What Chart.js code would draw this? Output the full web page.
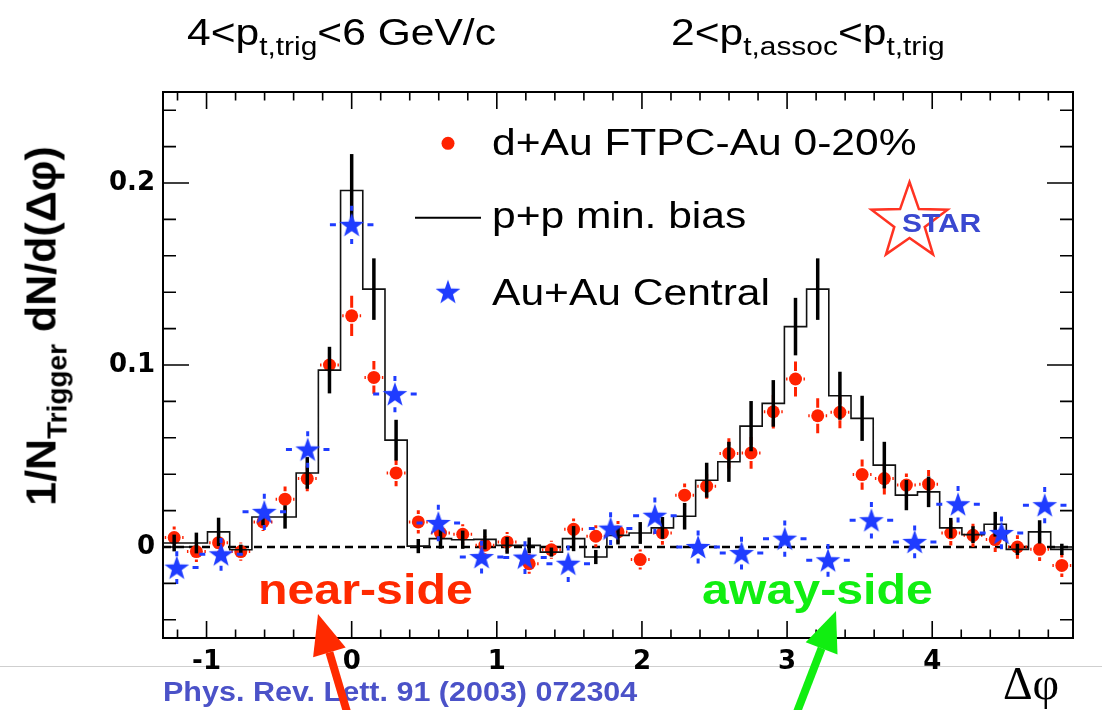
<!DOCTYPE html>
<html><head><meta charset="utf-8">
<script src="https://cdn.jsdelivr.net/npm/chart.js@4/dist/chart.umd.min.js"></script>
<style>
html,body{margin:0;padding:0;background:#fff;}
#wrap{position:relative;width:1102px;height:710px;overflow:hidden;font-family:"Liberation Sans",Arial,Helvetica,sans-serif;}
#c{position:absolute;left:0;top:0;}
.t{position:absolute;white-space:nowrap;line-height:1;transform-origin:0 0;transform:scaleX(1.15);color:#000;}
.sub{position:relative;}
#arrows{position:absolute;left:0;top:0;pointer-events:none;}
</style></head><body>
<div id="wrap">
<div style="position:absolute;left:0;top:666px;width:1102px;height:1px;background:#cfcfcf;"></div>
<canvas id="c" width="1102" height="710"></canvas>
<div class="t" style="left:187px;top:13.7px;font-size:37px;">4&lt;p<span class="sub" style="font-size:26px;top:10px;">t,trig</span>&lt;6 GeV/c</div>
<div class="t" style="left:671px;top:13.7px;font-size:37px;">2&lt;p<span class="sub" style="font-size:26px;top:10px;">t,assoc</span>&lt;p<span class="sub" style="font-size:26px;top:10px;">t,trig</span></div>
<div class="t" style="left:41px;top:326px;font-size:43px;font-weight:bold;font-family:'Liberation Sans',Arial,sans-serif;transform-origin:50% 50%;transform:translate(-50%,-50%) rotate(-90deg);">1/N<span class="sub" style="font-size:28px;top:11px;">Trigger</span> dN/d(Δφ)</div>
<div class="t" style="left:492px;top:123.7px;font-size:37px;">d+Au FTPC-Au 0-20%</div>
<div class="t" style="left:492px;top:196.7px;font-size:37px;">p+p min. bias</div>
<div class="t" style="left:492px;top:273.7px;font-size:37px;">Au+Au Central</div>
<div class="t" style="left:902px;top:210px;font-size:26px;font-weight:bold;color:#3a48d0;">STAR</div>
<div class="t" style="left:258px;top:569.4px;font-size:42px;font-weight:bold;color:#ff2a00;">near-side</div>
<div class="t" style="left:702px;top:569.4px;font-size:42px;font-weight:bold;color:#11ee11;">away-side</div>
<div class="t" style="left:163px;top:679px;font-size:27px;font-weight:bold;color:#4b52c8;transform:scaleX(1.13);">Phys. Rev. Lett. 91 (2003) 072304</div>
<div class="t" style="left:1003px;top:661px;font-size:46px;font-family:'Liberation Serif','DejaVu Serif',serif;transform:none;">Δφ</div>
<svg id="arrows" width="1102" height="710">
  <line x1="347" y1="712" x2="329.4" y2="652.4" stroke="#ff2a00" stroke-width="8"/>
  <polygon points="318,614 345.7,647.6 313.1,657.2" fill="#ff2a00"/>
  <line x1="797" y1="712" x2="821.6" y2="648.3" stroke="#11ee11" stroke-width="8"/>
  <polygon points="836,611 837.5,654.4 805.7,642.2" fill="#11ee11"/>
</svg>
</div>
<script>
// ---- data ----
// Δφ bin centres of the d+Au / p+p histograms
const dAuX = [-1.223,-1.070,-0.917,-0.764,-0.611,-0.459,-0.306,-0.153,0.000,0.153,0.306,0.459,0.612,0.765,0.918,1.071,1.223,1.376,1.529,1.682,1.835,1.988,2.141,2.294,2.446,2.599,2.752,2.905,3.058,3.211,3.364,3.517,3.670,3.822,3.975,4.128,4.281,4.434,4.587,4.740,4.893];
// d+Au FTPC-Au 0-20%
const dAuY = [0.0052,-0.0025,0.0024,-0.0025,0.0138,0.0263,0.0376,0.1000,0.1270,0.0932,0.0407,0.0138,0.0077,0.0070,0.0010,0.0028,-0.0092,-0.0015,0.0097,0.0059,0.0083,-0.0069,0.0077,0.0285,0.0334,0.0514,0.0517,0.0743,0.0923,0.0721,0.0740,0.0398,0.0376,0.0340,0.0345,0.0077,0.0064,0.0041,0.0000,-0.0013,-0.0101];
const dAuErr = [0.006,0.004,0.004,0.005,0.005,0.007,0.007,0.0065,0.011,0.009,0.0073,0.0064,0.0055,0.0055,0.005,0.0055,0.0055,0.005,0.006,0.006,0.006,0.0055,0.0064,0.0064,0.0069,0.0083,0.0087,0.0092,0.0096,0.0096,0.0087,0.0083,0.0087,0.0064,0.0078,0.0069,0.0064,0.0069,0.0064,0.0064,0.0064];
const dAuXErr = 0.065;
// p+p min. bias (histogram, same bins)
const ppY = [0.0022,0.0022,0.0083,-0.0015,0.0165,0.0165,0.0407,0.0972,0.1959,0.1417,0.0587,0.0005,0.0046,0.0040,0.0042,0.0009,0.0009,-0.0028,0.0046,-0.0055,0.0064,0.0077,0.0105,0.0169,0.0367,0.0468,0.0664,0.0789,0.1211,0.1417,0.0831,0.0707,0.0450,0.0285,0.0303,0.0105,0.0068,0.0125,-0.0013,0.0083,-0.0013];
const ppErr = [0.0046,0.0057,0.0078,0.0028,0.0046,0.0064,0.0087,0.0128,0.0200,0.0169,0.0112,0.0039,0.0055,0.0050,0.0055,0.0046,0.0043,0.0025,0.0069,0.0039,0.0050,0.0060,0.0060,0.0073,0.0096,0.0110,0.0138,0.0128,0.0158,0.0169,0.0132,0.0124,0.0128,0.0083,0.0084,0.0055,0.0046,0.0068,0.0031,0.0064,0.0031];
// Au+Au Central
const auauX = [-1.205,-0.900,-0.602,-0.303,0.000,0.298,0.597,0.895,1.194,1.492,1.784,2.089,2.387,2.686,2.984,3.282,3.581,3.879,4.178,4.477,4.775];
const auauY = [-0.0113,-0.0040,0.0193,0.0536,0.1770,0.0840,0.0132,-0.0055,-0.0058,-0.0092,0.0101,0.0172,0.0000,-0.0033,0.0046,-0.0073,0.0147,0.0028,0.0235,0.0077,0.0230];
const auauErr = [0.009,0.009,0.010,0.010,0.0105,0.010,0.010,0.009,0.009,0.010,0.009,0.010,0.009,0.009,0.010,0.009,0.010,0.009,0.010,0.009,0.010];
const auauXErr = 0.15;
// axis ticks
const xTickValues = [-1,0,1,2,3,4];
const yTickValues = [0,0.1,0.2];
const xRange = [-1.3, 4.97];
const yRange = [-0.05, 0.25];

// ---- colours ----
const RED = '#ff2200', BLUE = '#1f3cff', BLACK = '#000';

function makeStar(R, col){
  const s = Math.ceil(R*2+4);
  const c = document.createElement('canvas'); c.width = s; c.height = s;
  const g = c.getContext('2d');
  g.translate(s/2, s/2+1);
  g.beginPath();
  for(let k=0;k<10;k++){
    const a = -Math.PI/2 + k*Math.PI/5, r = (k%2===0)?R:R*0.4;
    const px = r*Math.cos(a), py = r*Math.sin(a);
    k===0?g.moveTo(px,py):g.lineTo(px,py);
  }
  g.closePath(); g.fillStyle = col; g.fill();
  return c;
}
const starImg = makeStar(13, BLUE);

// histogram edges built from the bin centres
const ppEdges = dAuX.map((x,i)=> i===0 ? x-(dAuX[1]-dAuX[0])/2 : (dAuX[i-1]+x)/2);
const lastEdge = dAuX[dAuX.length-1] + (dAuX[dAuX.length-1]-dAuX[dAuX.length-2])/2;
const ppHist = ppY.map((y,i)=>({x:ppEdges[i], y}));
ppHist.push({x:lastEdge, y:ppY[ppY.length-1]});

const clipArea = (ctx, a) => { ctx.beginPath(); ctx.rect(a.left, a.top, a.right-a.left, a.bottom-a.top); ctx.clip(); };

const decor = {
  id:'decor',
  beforeDatasetsDraw(chart){
    const {ctx, chartArea:a, scales:{x,y}} = chart;
    ctx.save();
    ctx.strokeStyle = '#000'; ctx.lineWidth = 2.4; ctx.setLineDash([8,5]);
    const y0 = y.getPixelForValue(0);
    ctx.beginPath(); ctx.moveTo(a.left, y0); ctx.lineTo(a.right, y0); ctx.stroke();
    ctx.restore();
  },
  beforeDatasetDraw(chart, args){
    const {ctx, chartArea:a, scales:{x,y}} = chart;
    const ds = chart.data.datasets[args.index];
    ctx.save(); clipArea(ctx,a);
    if(ds.label === 'd+Au FTPC-Au 0-20%'){
      ctx.strokeStyle = RED; ctx.lineWidth = 3;
      const r = 6.5;
      dAuX.forEach((xv,i)=>{
        const px = x.getPixelForValue(xv), py = y.getPixelForValue(dAuY[i]);
        const ey = Math.abs(y.getPixelForValue(dAuY[i]+dAuErr[i]) - py);
        const ex = Math.abs(x.getPixelForValue(xv+dAuXErr) - px);
        ctx.beginPath();
        if(ey > r+2){ ctx.moveTo(px, py-r-1.5); ctx.lineTo(px, py-ey); ctx.moveTo(px, py+r+1.5); ctx.lineTo(px, py+ey); }
        else { ctx.moveTo(px, py-r-1.5); ctx.lineTo(px, py-r-4); ctx.moveTo(px, py+r+1.5); ctx.lineTo(px, py+r+4); }
        ctx.moveTo(px-r-1.5, py); ctx.lineTo(px-ex, py); ctx.moveTo(px+r+1.5, py); ctx.lineTo(px+ex, py);
        ctx.stroke();
      });
    }
    if(ds.label === 'Au+Au Central'){
      ctx.strokeStyle = BLUE; ctx.lineWidth = 3;
      auauX.forEach((xv,i)=>{
        const px = x.getPixelForValue(xv), py = y.getPixelForValue(auauY[i]);
        const ey = Math.abs(y.getPixelForValue(auauY[i]+auauErr[i]) - py);
        const ex = Math.abs(x.getPixelForValue(xv+auauXErr) - px);
        ctx.beginPath();
        ctx.moveTo(px-ex, py); ctx.lineTo(px-ex+6, py);
        ctx.moveTo(px+ex-6, py); ctx.lineTo(px+ex, py);
        ctx.moveTo(px, py-ey); ctx.lineTo(px, py-ey+5);
        ctx.moveTo(px, py+ey-5); ctx.lineTo(px, py+ey);
        ctx.stroke();
      });
    }
    ctx.restore();
  },
  afterDatasetDraw(chart, args){
    const {ctx, chartArea:a, scales:{x,y}} = chart;
    const ds = chart.data.datasets[args.index];
    if(ds.label !== 'p+p min. bias') return;
    ctx.save(); clipArea(ctx,a);
    ctx.strokeStyle = BLACK; ctx.lineWidth = 3.5;
    dAuX.forEach((xv,i)=>{
      const px = x.getPixelForValue(xv);
      ctx.beginPath();
      ctx.moveTo(px, y.getPixelForValue(ppY[i]+ppErr[i]));
      ctx.lineTo(px, y.getPixelForValue(ppY[i]-ppErr[i]));
      ctx.stroke();
    });
    ctx.restore();
  },
  afterDatasetsDraw(chart){
    const {ctx, chartArea:a, scales:{x,y}} = chart;
    ctx.save();
    // frame
    ctx.strokeStyle = '#000'; ctx.lineWidth = 2;
    ctx.strokeRect(a.left, a.top, a.right-a.left, a.bottom-a.top);
    // inside ticks
    ctx.lineWidth = 1.6;
    ctx.beginPath();
    for(let k=-6;k<=24;k++){
      const v = k*0.2; if(v < xRange[0] || v > xRange[1]) continue;
      const px = x.getPixelForValue(v);
      const L = (k%5===0) ? 17 : 8.5;
      ctx.moveTo(px, a.bottom); ctx.lineTo(px, a.bottom-L);
      ctx.moveTo(px, a.top); ctx.lineTo(px, a.top+L);
    }
    for(let k=-2;k<=12;k++){
      const v = k*0.02; if(v < yRange[0] || v > yRange[1]) continue;
      const py = y.getPixelForValue(v);
      const L = (k%5===0) ? 26 : 13;
      ctx.moveTo(a.left, py); ctx.lineTo(a.left+L, py);
      ctx.moveTo(a.right, py); ctx.lineTo(a.right-L, py);
    }
    ctx.stroke();
    // legend markers
    ctx.fillStyle = RED;
    ctx.beginPath(); ctx.arc(448, 143.3, 6.5, 0, Math.PI*2); ctx.fill();
    ctx.strokeStyle = '#000'; ctx.lineWidth = 2;
    ctx.beginPath(); ctx.moveTo(415, 217.7); ctx.lineTo(481, 217.7); ctx.stroke();
    ctx.drawImage(starImg, 448-starImg.width/2, 291.7-starImg.height/2);
    // STAR logo outline star
    ctx.strokeStyle = '#ff3322'; ctx.lineWidth = 2.5;
    ctx.beginPath();
    for(let k=0;k<10;k++){
      const ang = -Math.PI/2 + k*Math.PI/5, r = (k%2===0)?40:16;
      const px = 909.5 + r*Math.cos(ang), py = 222 + r*Math.sin(ang);
      k===0?ctx.moveTo(px,py):ctx.lineTo(px,py);
    }
    ctx.closePath(); ctx.stroke();
    ctx.restore();
  }
};

const tickFont = {family:"'DejaVu Sans', sans-serif", weight:'bold', size:26};

new Chart(document.getElementById('c'), {
  type:'scatter',
  data:{
    datasets:[
      { label:'Au+Au Central', data: auauX.map((x,i)=>({x, y:auauY[i]})),
        pointStyle: starImg, pointRadius: 13, showLine:false },
      { label:'p+p min. bias', type:'line', data: ppHist, stepped:'before',
        borderColor:'#111', borderWidth:1.6, pointRadius:0, fill:false, tension:0 },
      { label:'d+Au FTPC-Au 0-20%', data: dAuX.map((x,i)=>({x, y:dAuY[i]})),
        pointStyle:'circle', pointRadius:6.5, backgroundColor:RED, borderWidth:0, showLine:false }
    ]
  },
  options:{
    responsive:false, animation:false, devicePixelRatio:1,
    layout:{padding:{left:0, top:92, right:29, bottom:0}},
    plugins:{legend:{display:false}, tooltip:{enabled:false}},
    scales:{
      x:{ type:'linear', min:xRange[0], max:xRange[1],
          grid:{display:false, drawTicks:false}, border:{display:false},
          afterBuildTicks: s => { s.ticks = xTickValues.map(v=>({value:v})); },
          afterFit: s => { s.height = 72; },
          ticks:{ font:tickFont, color:'#000', padding:9, autoSkip:false, maxRotation:0,
                  callback: v => String(v) } },
      y:{ type:'linear', min:yRange[0], max:yRange[1],
          grid:{display:false, drawTicks:false}, border:{display:false},
          afterBuildTicks: s => { s.ticks = yTickValues.map(v=>({value:v})); },
          afterFit: s => { s.width = 163; },
          ticks:{ font:tickFont, color:'#000', padding:8,
                  callback: v => v===0 ? '0' : (Math.round(v*10)/10).toString() } }
    }
  },
  plugins:[decor]
});
</script>
</body></html>
